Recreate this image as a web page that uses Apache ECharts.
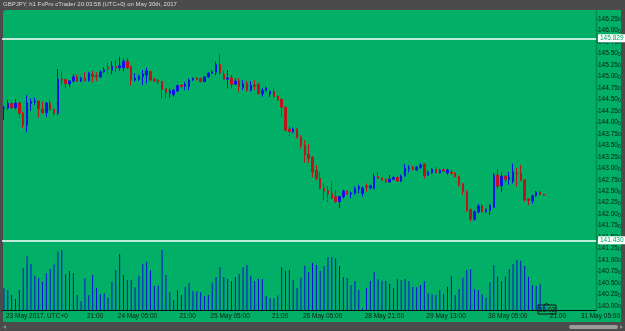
<!DOCTYPE html>
<html>
<head>
<meta charset="utf-8">
<title>GBPJPY h1</title>
<script src="https://cdn.jsdelivr.net/npm/echarts@6/dist/echarts.min.js"></script>
<style>
    html, body { margin: 0; padding: 0; background: #4b4b4b; }
    #chart { width: 625px; height: 331px; }
</style>
</head>
<body>
<div id="chart"></div>
<script>
// chart data
const titleText = 'GBPJPY, h1 FxPro cTrader 20:03:58 (UTC+0) on May 30th, 2017';

// hourly candles: [open, close, low, high]
const ohlc = [
    [144.30,144.32,144.05,144.36],[144.31,144.41,144.27,144.49],[144.41,144.32,144.29,144.44],[144.32,144.42,144.27,144.50],
    [144.42,144.20,144.09,144.45],[144.20,143.94,143.87,144.23],[143.94,144.42,143.78,144.59],[144.41,144.45,144.25,144.52],
    [144.44,144.46,144.38,144.54],[144.46,144.29,144.10,144.48],[144.29,144.21,144.19,144.45],[144.21,144.42,144.12,144.44],
    [144.42,144.28,144.26,144.49],[144.28,144.20,144.13,144.30],[144.20,144.94,144.15,145.16],[144.94,144.92,144.81,145.10],
    [144.93,144.84,144.75,144.95],[144.84,144.90,144.76,144.92],[144.90,144.99,144.87,145.05],[144.99,144.90,144.88,145.04],
    [144.90,144.96,144.88,144.99],[144.96,144.91,144.89,145.09],[144.91,145.07,144.88,145.10],[145.05,145.00,144.87,145.12],
    [145.02,144.99,144.90,145.09],[144.99,145.10,144.97,145.13],[145.10,145.14,145.08,145.20],[145.20,145.17,145.07,145.29],
    [145.13,145.22,145.05,145.33],[145.22,145.19,145.10,145.36],[145.19,145.23,145.12,145.43],[145.19,145.33,145.10,145.39],
    [145.33,145.19,145.16,145.41],[145.21,144.92,144.80,145.24],[144.92,144.96,144.89,145.07],[144.94,145.00,144.90,145.03],
    [145.00,145.05,144.81,145.14],[145.03,145.12,144.85,145.19],[145.10,144.92,144.90,145.13],[144.94,144.90,144.88,144.97],
    [144.91,144.88,144.82,144.95],[144.89,144.72,144.52,144.90],[144.73,144.65,144.52,144.74],[144.63,144.69,144.54,144.74],
    [144.60,144.70,144.56,144.72],[144.68,144.80,144.66,144.82],[144.81,144.78,144.74,144.83],[144.79,144.83,144.70,144.88],
    [144.78,144.92,144.70,144.96],[144.93,144.96,144.90,144.97],[144.96,144.93,144.91,144.98],[144.95,144.89,144.87,144.97],
    [144.89,144.99,144.87,145.01],[144.99,145.07,144.97,145.09],[145.07,145.10,145.05,145.13],[145.09,145.26,145.03,145.32],
    [145.26,145.08,145.02,145.48],[145.05,144.94,144.92,145.12],[144.94,144.97,144.74,145.14],[144.97,144.83,144.74,145.03],
    [144.83,144.90,144.81,144.96],[144.90,144.78,144.67,144.96],[144.76,144.84,144.70,144.92],[144.85,144.70,144.67,144.90],
    [144.70,144.80,144.67,144.90],[144.81,144.79,144.70,144.92],[144.83,144.63,144.60,144.85],[144.62,144.70,144.56,144.75],
    [144.69,144.75,144.67,144.78],[144.62,144.67,144.55,144.70],[144.67,144.56,144.54,144.75],[144.57,144.49,144.47,144.59],
    [144.50,144.33,144.12,144.52],[144.33,143.83,143.80,144.35],[143.85,143.80,143.70,143.92],[143.80,143.85,143.76,143.89],
    [143.85,143.67,143.65,143.87],[143.67,143.50,143.43,143.72],[143.50,143.29,143.12,143.61],[143.30,143.22,143.12,143.53],
    [143.24,142.92,142.80,143.26],[142.95,142.78,142.74,143.07],[142.78,142.56,142.54,142.92],[142.56,142.50,142.31,142.68],
    [142.51,142.44,142.27,142.61],[142.45,142.35,142.31,142.70],[142.38,142.27,142.24,142.53],[142.27,142.38,142.13,142.40],
    [142.38,142.50,142.34,142.53],[142.50,142.44,142.42,142.52],[142.44,142.46,142.35,142.49],[142.46,142.56,142.42,142.60],
    [142.55,142.60,142.46,142.64],[142.45,142.57,142.38,142.60],[142.62,142.59,142.49,142.67],[142.58,142.62,142.54,142.63],
    [142.56,142.82,142.54,142.89],[142.82,142.78,142.76,142.92],[142.79,142.74,142.72,142.81],[142.76,142.70,142.68,142.78],
    [142.70,142.76,142.68,142.85],[142.76,142.80,142.74,142.83],[142.80,142.72,142.70,142.82],[142.72,142.83,142.70,142.86],
    [142.83,143.00,142.82,143.09],[142.99,143.01,142.91,143.07],[143.02,142.98,142.95,143.05],[142.96,143.02,142.94,143.05],
    [143.02,143.07,142.99,143.11],[143.09,142.83,142.78,143.11],[142.85,142.92,142.83,142.95],[142.90,142.98,142.88,143.00],
    [142.98,142.90,142.88,143.03],[142.90,142.96,142.88,142.99],[142.97,142.94,142.92,143.00],[142.90,142.96,142.85,143.00],
    [142.91,142.89,142.85,142.97],[142.89,142.82,142.80,142.92],[142.82,142.64,142.60,142.84],[142.66,142.49,142.42,142.68],
    [142.49,142.09,142.05,142.52],[142.10,141.89,141.84,142.12],[141.89,142.05,141.86,142.08],[142.05,142.18,142.02,142.22],
    [142.18,142.05,142.03,142.22],[142.05,142.10,142.02,142.13],[142.08,142.20,141.98,142.22],[142.15,142.85,142.13,142.90],
    [142.85,142.61,142.53,142.98],[142.62,142.82,142.49,142.92],[142.83,142.76,142.70,142.84],[142.76,142.80,142.64,142.92],
    [142.71,142.92,142.67,143.10],[142.90,142.88,142.60,143.00],[142.89,142.74,142.72,143.07],[142.74,142.31,142.27,142.76],
    [142.33,142.30,142.20,142.35],[142.29,142.40,142.23,142.42],[142.40,142.48,142.38,142.50],[142.48,142.43,142.41,142.50],
    [142.43,142.41,142.40,142.44]
];

// tick volume per hour
const volumes = [
    217,200,150,110,200,417,543,460,343,317,283,367,410,457,583,600,357,390,370,150,
    90,317,150,350,223,157,167,123,283,400,560,350,300,300,227,343,460,483,397,243,
    243,600,350,177,100,197,150,230,273,193,185,177,140,150,273,330,427,330,310,290,
    330,360,427,450,343,290,310,310,140,117,117,145,427,393,400,300,217,323,443,377,
    473,450,390,440,530,530,517,440,330,320,247,290,200,17,220,290,380,307,293,290,
    263,223,307,300,310,290,233,227,250,290,167,157,147,200,160,233,340,150,210,323,
    400,407,207,200,157,123,277,447,333,290,333,410,457,500,493,440,333,247,240,257,
    50
];

// horizontal lines
const hLines = [145.829, 141.430];

// time axis labels
const timeLabels = {
    '23 May 00:00': '23 May 2017, UTC+0',
    '23 May 21:00': '21:00',
    '24 May 05:00': '24 May 05:00',
    '24 May 21:00': '21:00',
    '25 May 05:00': '25 May 05:00',
    '25 May 21:00': '21:00',
    '26 May 05:00': '26 May 05:00',
    '28 May 21:00': '28 May 21:00',
    '29 May 13:00': '29 May 13:00',
    '30 May 05:00': '30 May 05:00',
    '30 May 21:00': '21:00',
    '31 May 05:00': '31 May 05:00'
};

const countdown = '56:03';

const GREEN = '#02af66';
const UP = '#0a14e6';
const DOWN = '#bc1418';
const TEXT = '#0d1a12';
const FONT = 'Liberation Sans';

// hourly categories, weekend skipped
function buildHours() {
    const cats = [];
    const pad = n => (n < 10 ? '0' : '') + n;
    function push(day, hour, n) {
        for (let i = 0; i < n; i++) {
            cats.push(day + ' May ' + pad(hour) + ':00');
            hour++;
            if (hour === 24) { hour = 0; day++; }
        }
    }
    push(23, 0, 93);
    push(28, 21, 61);
    return cats;
}

document.addEventListener('DOMContentLoaded', function() {
    const chart = echarts.init(document.getElementById('chart'));
    const cats = buildHours();
    const showTick = (idx, val) => timeLabels[val] !== undefined;

    const option = {
        animation: false,
        backgroundColor: '#4b4b4b',
        grid: [
            { left: 2, right: 29, top: 19, bottom: 25 },
            { left: 2, right: 29, top: 245, bottom: 21 }
        ],
        xAxis: [
            { type: 'category', gridIndex: 0, data: cats, show: false },
            {
                type: 'category', gridIndex: 1, data: cats,
                axisLine: { lineStyle: { color: '#111', width: 1 } },
                axisTick: { interval: showTick, length: 3, lineStyle: { color: '#111' } },
                axisLabel: {
                    interval: showTick,
                    formatter: v => timeLabels[v] || '',
                    align: 'left',
                    margin: 3,
                    padding: [0, 0, 0, 2],
                    color: TEXT,
                    fontSize: 6.5,
                    fontFamily: FONT
                }
            }
        ],
        yAxis: [
            {
                type: 'value', gridIndex: 0, position: 'right',
                min: 140, max: 146.25, interval: 0.25,
                splitLine: { show: false },
                axisLine: { show: false },
                axisTick: { show: true, length: 2, lineStyle: { color: '#0a3a20' } },
                axisLabel: {
                    margin: 2,
                    showMinLabel: true,
                    showMaxLabel: true,
                    formatter: function(v) {
                        const s = v.toFixed(3);
                        return '{a|' + s.slice(0, -1) + '}{b|' + s.slice(-1) + '}';
                    },
                    rich: {
                        a: { fontSize: 6.5, color: TEXT, fontFamily: FONT },
                        b: { fontSize: 5, color: TEXT, fontFamily: FONT, padding: [2, 0, 0, 0] }
                    }
                }
            },
            { type: 'value', gridIndex: 1, min: 0, max: 650, show: false }
        ],
        series: [
            {
                type: 'candlestick',
                xAxisIndex: 0,
                yAxisIndex: 0,
                data: ohlc,
                barWidth: 2,
                itemStyle: {
                    color: UP, color0: DOWN,
                    borderColor: UP, borderColor0: DOWN,
                    borderWidth: 1
                },
                markLine: {
                    silent: true,
                    symbol: ['none', 'none'],
                    lineStyle: { color: '#ffffff', width: 1.5, type: 'solid' },
                    label: {
                        position: 'end',
                        distance: 2,
                        formatter: p => hLines[p.dataIndex].toFixed(3),
                        backgroundColor: '#ffffff',
                        color: '#00a35c',
                        fontSize: 6.5,
                        fontFamily: FONT,
                        padding: [1, 2, 0, 2],
                        borderRadius: 1
                    },
                    data: hLines.map(v => ({ yAxis: v }))
                }
            },
            {
                type: 'bar',
                xAxisIndex: 1,
                yAxisIndex: 1,
                data: volumes,
                barWidth: 1,
                itemStyle: { color: '#0a10d8' }
            }
        ],
        graphic: [
            // green chart area
            { type: 'rect', z: -10, shape: { x: 3, y: 10, width: 618, height: 312, r: [3, 0, 0, 0] }, style: { fill: GREEN } },
            // price axis line
            { type: 'line', z: 1, shape: { x1: 596.5, y1: 10, x2: 596.5, y2: 310 }, style: { stroke: '#00894d', lineWidth: 1.5 } },
            // title
            { type: 'text', z: 100, x: 3, y: 1.5, style: { text: titleText, fill: '#dadada', font: '6px ' + FONT } },
            // countdown box
            {
                type: 'group', z: 100, x: 538, y: 305,
                children: [
                    { type: 'polygon', shape: { points: [[6, 0.5], [8.5, -2], [11, 0.5]] }, style: { fill: GREEN, stroke: '#111', lineWidth: 1 } },
                    { type: 'rect', shape: { x: 0, y: 0, width: 18, height: 9 }, style: { fill: GREEN, stroke: '#111', lineWidth: 1 } },
                    { type: 'text', x: 9, y: 5, style: { text: countdown, fill: '#111', font: '6.5px ' + FONT, align: 'center', verticalAlign: 'middle' } }
                ]
            },
            // scrollbar
            { type: 'rect', shape: { x: 569, y: 325, width: 49, height: 4, r: 2 }, style: { fill: '#9c9c9c' } },
            { type: 'polygon', shape: { points: [[620, 325], [623, 327], [620, 329]] }, style: { fill: '#8a8a8a' } },
            { type: 'polygon', shape: { points: [[6, 325], [3, 327], [6, 329]] }, style: { fill: '#8a8a8a' } }
        ]
    };

    chart.setOption(option);
});
</script>
</body>
</html>
